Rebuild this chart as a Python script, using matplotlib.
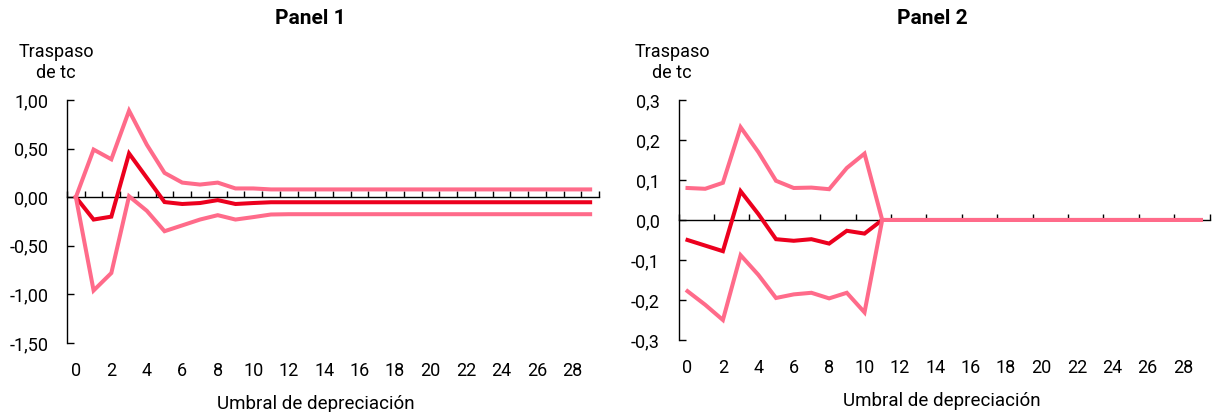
import numpy as np
import matplotlib
matplotlib.use("Agg")
import matplotlib.pyplot as plt
from matplotlib.ticker import FixedLocator, FuncFormatter

plt.rcParams["font.family"] = ["Roboto", "DejaVu Sans"]

# Threshold of depreciation (categories 0..29)
thresholds = list(range(30))
tick_labels = [str(t) for t in range(0, 30, 2)]

# Panel 1: pass-through estimate and confidence band
p1_upper = [0.00, 0.49, 0.39, 0.89, 0.54, 0.25, 0.15, 0.13, 0.15, 0.09,
            0.09, 0.08, 0.08, 0.08, 0.08, 0.08, 0.08, 0.08, 0.08, 0.08,
            0.08, 0.08, 0.08, 0.08, 0.08, 0.08, 0.08, 0.08, 0.08, 0.08]
p1_mid = [0.00, -0.23, -0.20, 0.45, 0.20, -0.05, -0.07, -0.06, -0.03, -0.07,
          -0.06, -0.052, -0.052, -0.052, -0.052, -0.052, -0.052, -0.052, -0.052, -0.052,
          -0.052, -0.052, -0.052, -0.052, -0.052, -0.052, -0.052, -0.052, -0.052, -0.052]
p1_lower = [0.00, -0.96, -0.78, 0.01, -0.14, -0.35, -0.29, -0.23, -0.185, -0.23,
            -0.205, -0.178, -0.175, -0.175, -0.175, -0.175, -0.175, -0.175, -0.175, -0.175,
            -0.175, -0.175, -0.175, -0.175, -0.175, -0.175, -0.175, -0.175, -0.175, -0.175]

# Panel 2: pass-through estimate and confidence band
p2_upper = [0.080, 0.078, 0.093, 0.232, 0.170, 0.098, 0.080, 0.081, 0.077, 0.130,
            0.166, 0.0, 0.0, 0.0, 0.0, 0.0, 0.0, 0.0, 0.0, 0.0,
            0.0, 0.0, 0.0, 0.0, 0.0, 0.0, 0.0, 0.0, 0.0, 0.0]
p2_mid = [-0.050, -0.064, -0.078, 0.072, 0.015, -0.048, -0.052, -0.048, -0.059, -0.027,
          -0.034, 0.0, 0.0, 0.0, 0.0, 0.0, 0.0, 0.0, 0.0, 0.0,
          0.0, 0.0, 0.0, 0.0, 0.0, 0.0, 0.0, 0.0, 0.0, 0.0]
p2_lower = [-0.178, -0.212, -0.250, -0.088, -0.137, -0.195, -0.186, -0.182, -0.196, -0.182,
            -0.231, 0.0, 0.0, 0.0, 0.0, 0.0, 0.0, 0.0, 0.0, 0.0,
            0.0, 0.0, 0.0, 0.0, 0.0, 0.0, 0.0, 0.0, 0.0, 0.0]

RED = "#EC001E"
PINK = "#FF6B8A"
FS = 13

fig = plt.figure(figsize=(12.16, 4.12), dpi=100)
ax1 = fig.add_axes([0.0551, 0.1675, 0.4375, 0.5898])
ax2 = fig.add_axes([0.5581, 0.1748, 0.4367, 0.5825])


def comma_fmt(decimals):
    return FuncFormatter(lambda v, pos: f"{v:.{decimals}f}".replace(".", ","))


def style(ax, upper, mid, lower, ylim, ystep, decimals, tick_every, xlabel_x):
    x = np.array(thresholds)
    ax.plot(x, mid, color=RED, lw=2.9, zorder=3, solid_joinstyle="miter")
    ax.plot(x, lower, color=PINK, lw=2.9, zorder=4, solid_joinstyle="miter")
    ax.plot(x, upper, color=PINK, lw=2.9, zorder=4, solid_joinstyle="miter")

    ax.set_xlim(-0.5, 29.5)
    ax.set_ylim(*ylim)
    for s in ("top", "right"):
        ax.spines[s].set_visible(False)
    ax.spines["bottom"].set_position(("data", 0))
    ax.spines["bottom"].set_linewidth(1.0)
    ax.spines["left"].set_linewidth(1.0)
    ax.spines["bottom"].set_zorder(2)

    yt = np.arange(ylim[0], ylim[1] + ystep / 2, ystep)
    ax.yaxis.set_major_locator(FixedLocator(yt))
    ax.yaxis.set_major_formatter(comma_fmt(decimals))
    ax.tick_params(axis="y", direction="in", length=5, width=1.0,
                   pad=13.5, labelsize=FS)

    # category boundary ticks on the zero line
    bounds = np.arange(-0.5, 29.6, tick_every)
    ax.xaxis.set_major_locator(FixedLocator(bounds))
    ax.tick_params(axis="x", direction="in", length=4, width=1.0,
                   labelbottom=False)

    # category labels along the bottom edge
    sec = ax.secondary_xaxis("bottom")
    sec.spines["bottom"].set_visible(False)
    sec.set_xticks(range(0, 30, 2))
    sec.set_xticklabels(tick_labels)
    sec.tick_params(length=0, pad=13.5, labelsize=FS)
    sec.set_xlabel("Umbral de depreciación", fontsize=13.5, labelpad=11)
    sec.xaxis.label.set_x(xlabel_x)


style(ax1, p1_upper, p1_mid, p1_lower, (-1.5, 1.0), 0.5, 2, 1,
      (316 - 67) / (599 - 67))
style(ax2, p2_upper, p2_mid, p2_lower, (-0.3, 0.3), 0.1, 1, 2,
      (942 - 679) / (1210 - 679))

fig.text(310 / 1216, 1 - 19 / 412, "Panel 1", ha="center", va="center",
         fontsize=15, fontweight="bold")
fig.text(932 / 1216, 1 - 19 / 412, "Panel 2", ha="center", va="center",
         fontsize=15, fontweight="bold")
fig.text(56 / 1216, 1 - 62.5 / 412, "Traspaso\nde tc", ha="center", va="center",
         fontsize=FS, linespacing=1.17)
fig.text(672 / 1216, 1 - 62.5 / 412, "Traspaso\nde tc", ha="center", va="center",
         fontsize=FS, linespacing=1.17)

fig.savefig("out.png", dpi=100)
